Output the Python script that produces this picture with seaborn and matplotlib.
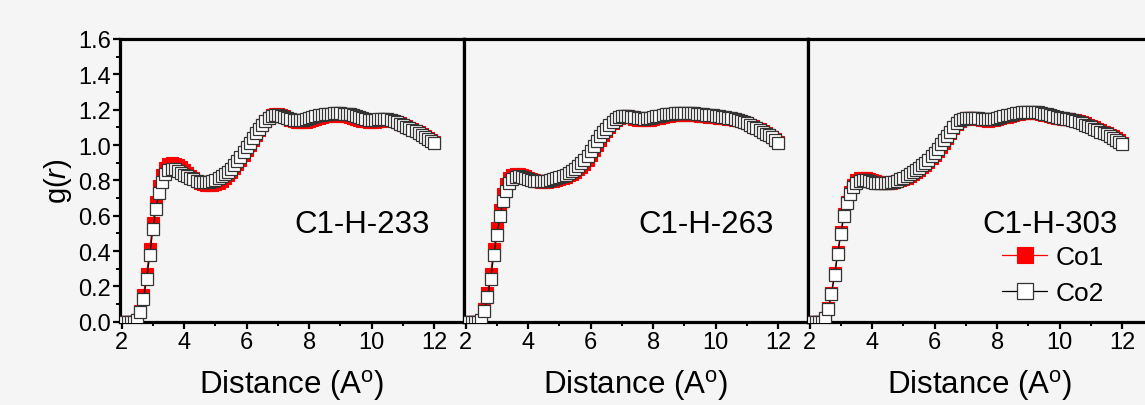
import numpy as np
import pandas as pd
import matplotlib
matplotlib.use("Agg")
import matplotlib.pyplot as plt
import seaborn as sns
from matplotlib.ticker import MultipleLocator, FormatStrFormatter

sns.set_theme(style="ticks")
plt.rcParams["font.family"] = ["Liberation Sans", "DejaVu Sans"]
plt.rcParams["mathtext.fontset"] = "custom"
plt.rcParams["mathtext.rm"] = "Liberation Sans"
plt.rcParams["mathtext.it"] = "Liberation Sans:italic"
plt.rcParams["text.color"] = "black"
plt.rcParams["axes.labelcolor"] = "black"
plt.rcParams["xtick.color"] = "black"
plt.rcParams["ytick.color"] = "black"

# radial grid (Å), sampled every 0.1
distance = np.round(np.arange(2.0, 12.05, 0.1), 1)

# g(r) for C1-H at 233 K
co1_233 = [0, 0, 0, 0, 0, 0.01, 0.06, 0.15, 0.27, 0.41,
           0.56, 0.68, 0.77, 0.83, 0.87, 0.89, 0.897, 0.895, 0.886, 0.873,
           0.857, 0.841, 0.826, 0.811, 0.798, 0.787, 0.779, 0.774, 0.772, 0.774,
           0.779, 0.787, 0.798, 0.812, 0.828, 0.847, 0.868, 0.891, 0.916, 0.943,
           0.971, 1.000, 1.029, 1.058, 1.087, 1.113, 1.136, 1.155, 1.168, 1.175,
           1.176, 1.171, 1.162, 1.152, 1.143, 1.136, 1.131, 1.129, 1.130, 1.133,
           1.138, 1.143, 1.149, 1.154, 1.159, 1.162, 1.165, 1.167, 1.168, 1.168,
           1.167, 1.165, 1.162, 1.158, 1.153, 1.148, 1.143, 1.138, 1.134, 1.131,
           1.130, 1.131, 1.134, 1.138, 1.141, 1.142, 1.140, 1.136, 1.130, 1.123,
           1.115, 1.107, 1.099, 1.090, 1.081, 1.072, 1.062, 1.052, 1.041, 1.030,
           1.018]
co2_233 = [0, 0, 0, 0, 0, 0.01, 0.053, 0.128, 0.24, 0.375,
           0.522, 0.638, 0.731, 0.793, 0.835, 0.858, 0.865, 0.862, 0.854, 0.844,
           0.833, 0.823, 0.813, 0.805, 0.798, 0.792, 0.789, 0.788, 0.789, 0.795,
           0.803, 0.813, 0.823, 0.834, 0.848, 0.866, 0.886, 0.908, 0.932, 0.958,
           0.986, 1.014, 1.040, 1.066, 1.092, 1.115, 1.135, 1.151, 1.162, 1.168,
           1.170, 1.166, 1.160, 1.153, 1.147, 1.143, 1.141, 1.141, 1.143, 1.147,
           1.152, 1.158, 1.163, 1.168, 1.172, 1.175, 1.177, 1.178, 1.179, 1.179,
           1.179, 1.178, 1.176, 1.173, 1.168, 1.163, 1.158, 1.152, 1.147, 1.143,
           1.141, 1.142, 1.145, 1.148, 1.149, 1.147, 1.142, 1.136, 1.129, 1.121,
           1.113, 1.104, 1.095, 1.086, 1.077, 1.067, 1.057, 1.047, 1.036, 1.024,
           1.012]

# g(r) for C1-H at 263 K
co1_263 = [0, 0, 0, 0, 0, 0.01, 0.07, 0.16, 0.27, 0.41,
           0.53, 0.63, 0.72, 0.78, 0.815, 0.832, 0.838, 0.837, 0.831, 0.823,
           0.814, 0.806, 0.800, 0.796, 0.793, 0.792, 0.793, 0.795, 0.798, 0.802,
           0.807, 0.813, 0.820, 0.828, 0.838, 0.849, 0.862, 0.877, 0.895, 0.917,
           0.942, 0.970, 1.000, 1.030, 1.057, 1.081, 1.103, 1.123, 1.140, 1.153,
           1.161, 1.164, 1.162, 1.156, 1.149, 1.143, 1.140, 1.139, 1.140, 1.143,
           1.147, 1.151, 1.155, 1.159, 1.163, 1.166, 1.168, 1.170, 1.171, 1.172,
           1.172, 1.172, 1.171, 1.170, 1.168, 1.166, 1.164, 1.162, 1.160, 1.158,
           1.156, 1.155, 1.153, 1.151, 1.149, 1.147, 1.144, 1.140, 1.135, 1.129,
           1.122, 1.114, 1.106, 1.097, 1.088, 1.079, 1.069, 1.059, 1.048, 1.034,
           1.018]
co2_263 = [0, 0, 0, 0, 0, 0.01, 0.062, 0.137, 0.24, 0.375,
           0.49, 0.60, 0.685, 0.741, 0.784, 0.808, 0.82, 0.822, 0.818, 0.812,
           0.806, 0.801, 0.797, 0.795, 0.794, 0.795, 0.797, 0.801, 0.806, 0.812,
           0.818, 0.825, 0.833, 0.842, 0.852, 0.864, 0.879, 0.896, 0.916, 0.939,
           0.965, 0.993, 1.022, 1.049, 1.072, 1.092, 1.112, 1.130, 1.146, 1.157,
           1.164, 1.166, 1.165, 1.161, 1.157, 1.153, 1.151, 1.150, 1.151, 1.154,
           1.158, 1.162, 1.166, 1.170, 1.173, 1.176, 1.178, 1.180, 1.181, 1.182,
           1.182, 1.182, 1.181, 1.180, 1.178, 1.176, 1.174, 1.172, 1.170, 1.168,
           1.166, 1.164, 1.161, 1.158, 1.155, 1.152, 1.148, 1.143, 1.137, 1.130,
           1.122, 1.113, 1.104, 1.094, 1.085, 1.075, 1.065, 1.055, 1.043, 1.028,
           1.012]

# g(r) for C1-H at 303 K
co1_303 = [0, 0, 0, 0, 0, 0.02, 0.08, 0.165, 0.275, 0.395,
           0.51, 0.61, 0.68, 0.735, 0.775, 0.80, 0.812, 0.815, 0.813, 0.808,
           0.802, 0.796, 0.791, 0.788, 0.786, 0.786, 0.787, 0.790, 0.794, 0.800,
           0.807, 0.815, 0.825, 0.836, 0.848, 0.860, 0.874, 0.889, 0.906, 0.925,
           0.945, 0.967, 0.990, 1.014, 1.040, 1.067, 1.094, 1.117, 1.134, 1.145,
           1.151, 1.153, 1.152, 1.149, 1.145, 1.141, 1.139, 1.138, 1.139, 1.142,
           1.146, 1.151, 1.156, 1.161, 1.166, 1.170, 1.174, 1.177, 1.179, 1.181,
           1.182, 1.182, 1.181, 1.179, 1.176, 1.172, 1.168, 1.163, 1.159, 1.155,
           1.152, 1.150, 1.148, 1.146, 1.143, 1.139, 1.134, 1.128, 1.122, 1.115,
           1.108, 1.100, 1.092, 1.084, 1.076, 1.068, 1.059, 1.049, 1.038, 1.026,
           1.012]
co2_303 = [0, 0, 0, 0, 0, 0.02, 0.071, 0.156, 0.263, 0.381,
           0.497, 0.597, 0.67, 0.725, 0.765, 0.787, 0.798, 0.803, 0.801, 0.796,
           0.791, 0.787, 0.785, 0.784, 0.784, 0.785, 0.788, 0.793, 0.799, 0.806,
           0.815, 0.825, 0.836, 0.848, 0.860, 0.872, 0.886, 0.901, 0.918, 0.937,
           0.957, 0.980, 1.003, 1.026, 1.050, 1.075, 1.102, 1.124, 1.140, 1.149,
           1.153, 1.155, 1.155, 1.153, 1.151, 1.148, 1.146, 1.145, 1.146, 1.149,
           1.153, 1.158, 1.163, 1.168, 1.172, 1.176, 1.180, 1.183, 1.185, 1.187,
           1.188, 1.188, 1.187, 1.185, 1.182, 1.178, 1.173, 1.168, 1.163, 1.158,
           1.154, 1.151, 1.148, 1.145, 1.141, 1.136, 1.130, 1.123, 1.116, 1.108,
           1.100, 1.092, 1.084, 1.076, 1.068, 1.060, 1.051, 1.041, 1.030, 1.018,
           1.005]

panel_labels = ["C1-H-233", "C1-H-263", "C1-H-303"]
co1_series = [co1_233, co1_263, co1_303]
co2_series = [co2_233, co2_263, co2_303]
x_ticks = [2, 4, 6, 8, 10, 12]

bg = "#f5f5f5"
fig = plt.figure(figsize=(11.45, 4.06), dpi=100)
fig.patch.set_facecolor(bg)

left0 = 120 / 1145
width = 344 / 1145
bottom = (406 - 322.7) / 406
height = (322.7 - 40) / 406
axes = [fig.add_axes([left0 + i * width, bottom, width, height]) for i in range(3)]

for i, ax in enumerate(axes):
    df = pd.DataFrame({"Distance": distance, "Co1": co1_series[i], "Co2": co2_series[i]})
    ax.set_facecolor(bg)
    sns.lineplot(data=df, x="Distance", y="Co1", ax=ax, color="red",
                 marker="s", markersize=8, markerfacecolor="red",
                 markeredgecolor="red", markeredgewidth=0.8, linewidth=0.9,
                 estimator=None, sort=False, label="Co1", legend=False, zorder=2)
    sns.lineplot(data=df, x="Distance", y="Co2", ax=ax, color="black",
                 marker="s", markersize=8, markerfacecolor="white",
                 markeredgecolor="#333333", markeredgewidth=0.9, linewidth=0.9,
                 estimator=None, sort=False, label="Co2", legend=False, zorder=3)

    ax.set_xlim(1.95, 12.95)
    ax.set_ylim(0, 1.6)
    ax.set_xticks(x_ticks)
    ax.set_xticklabels([str(t) for t in x_ticks])
    ax.xaxis.set_minor_locator(MultipleLocator(1))
    ax.yaxis.set_major_locator(MultipleLocator(0.2))
    ax.yaxis.set_minor_locator(MultipleLocator(0.1))
    ax.yaxis.set_major_formatter(FormatStrFormatter("%.1f"))

    for sp in ax.spines.values():
        sp.set_visible(True)
        sp.set_linewidth(2.3)
        sp.set_color("black")

    ax.tick_params(axis="both", which="major", direction="out", length=5,
                   width=1.6, labelsize=17, labelcolor="black", color="black", pad=1.5)
    ax.tick_params(axis="both", which="minor", direction="out", length=3,
                   width=1.4, color="black")
    ax.tick_params(axis="y", which="both", right=False)
    ax.tick_params(axis="x", which="both", top=False)

    ax.set_xlabel(r"Distance (A$^\mathregular{o}$)", fontsize=22.5, labelpad=10,
                  color="black")
    if i == 0:
        ax.set_ylabel(r"g($\mathit{r}$)", fontsize=21, labelpad=3, color="black")
    else:
        ax.set_ylabel("")
        ax.tick_params(axis="y", which="both", left=False, labelleft=False)

    ax.text(11.85, 0.505, panel_labels[i], fontsize=22.5, ha="right",
            va="baseline", color="black")

leg = axes[2].legend(loc="upper left", bbox_to_anchor=(0.565, 0.27),
                     frameon=False, fontsize=19, handlelength=1.7,
                     handletextpad=0.3, labelspacing=0.45, borderpad=0,
                     borderaxespad=0, markerscale=1.4, numpoints=1)
for t in leg.get_texts():
    t.set_color("black")

fig.savefig("out.png", dpi=100, facecolor=bg)
